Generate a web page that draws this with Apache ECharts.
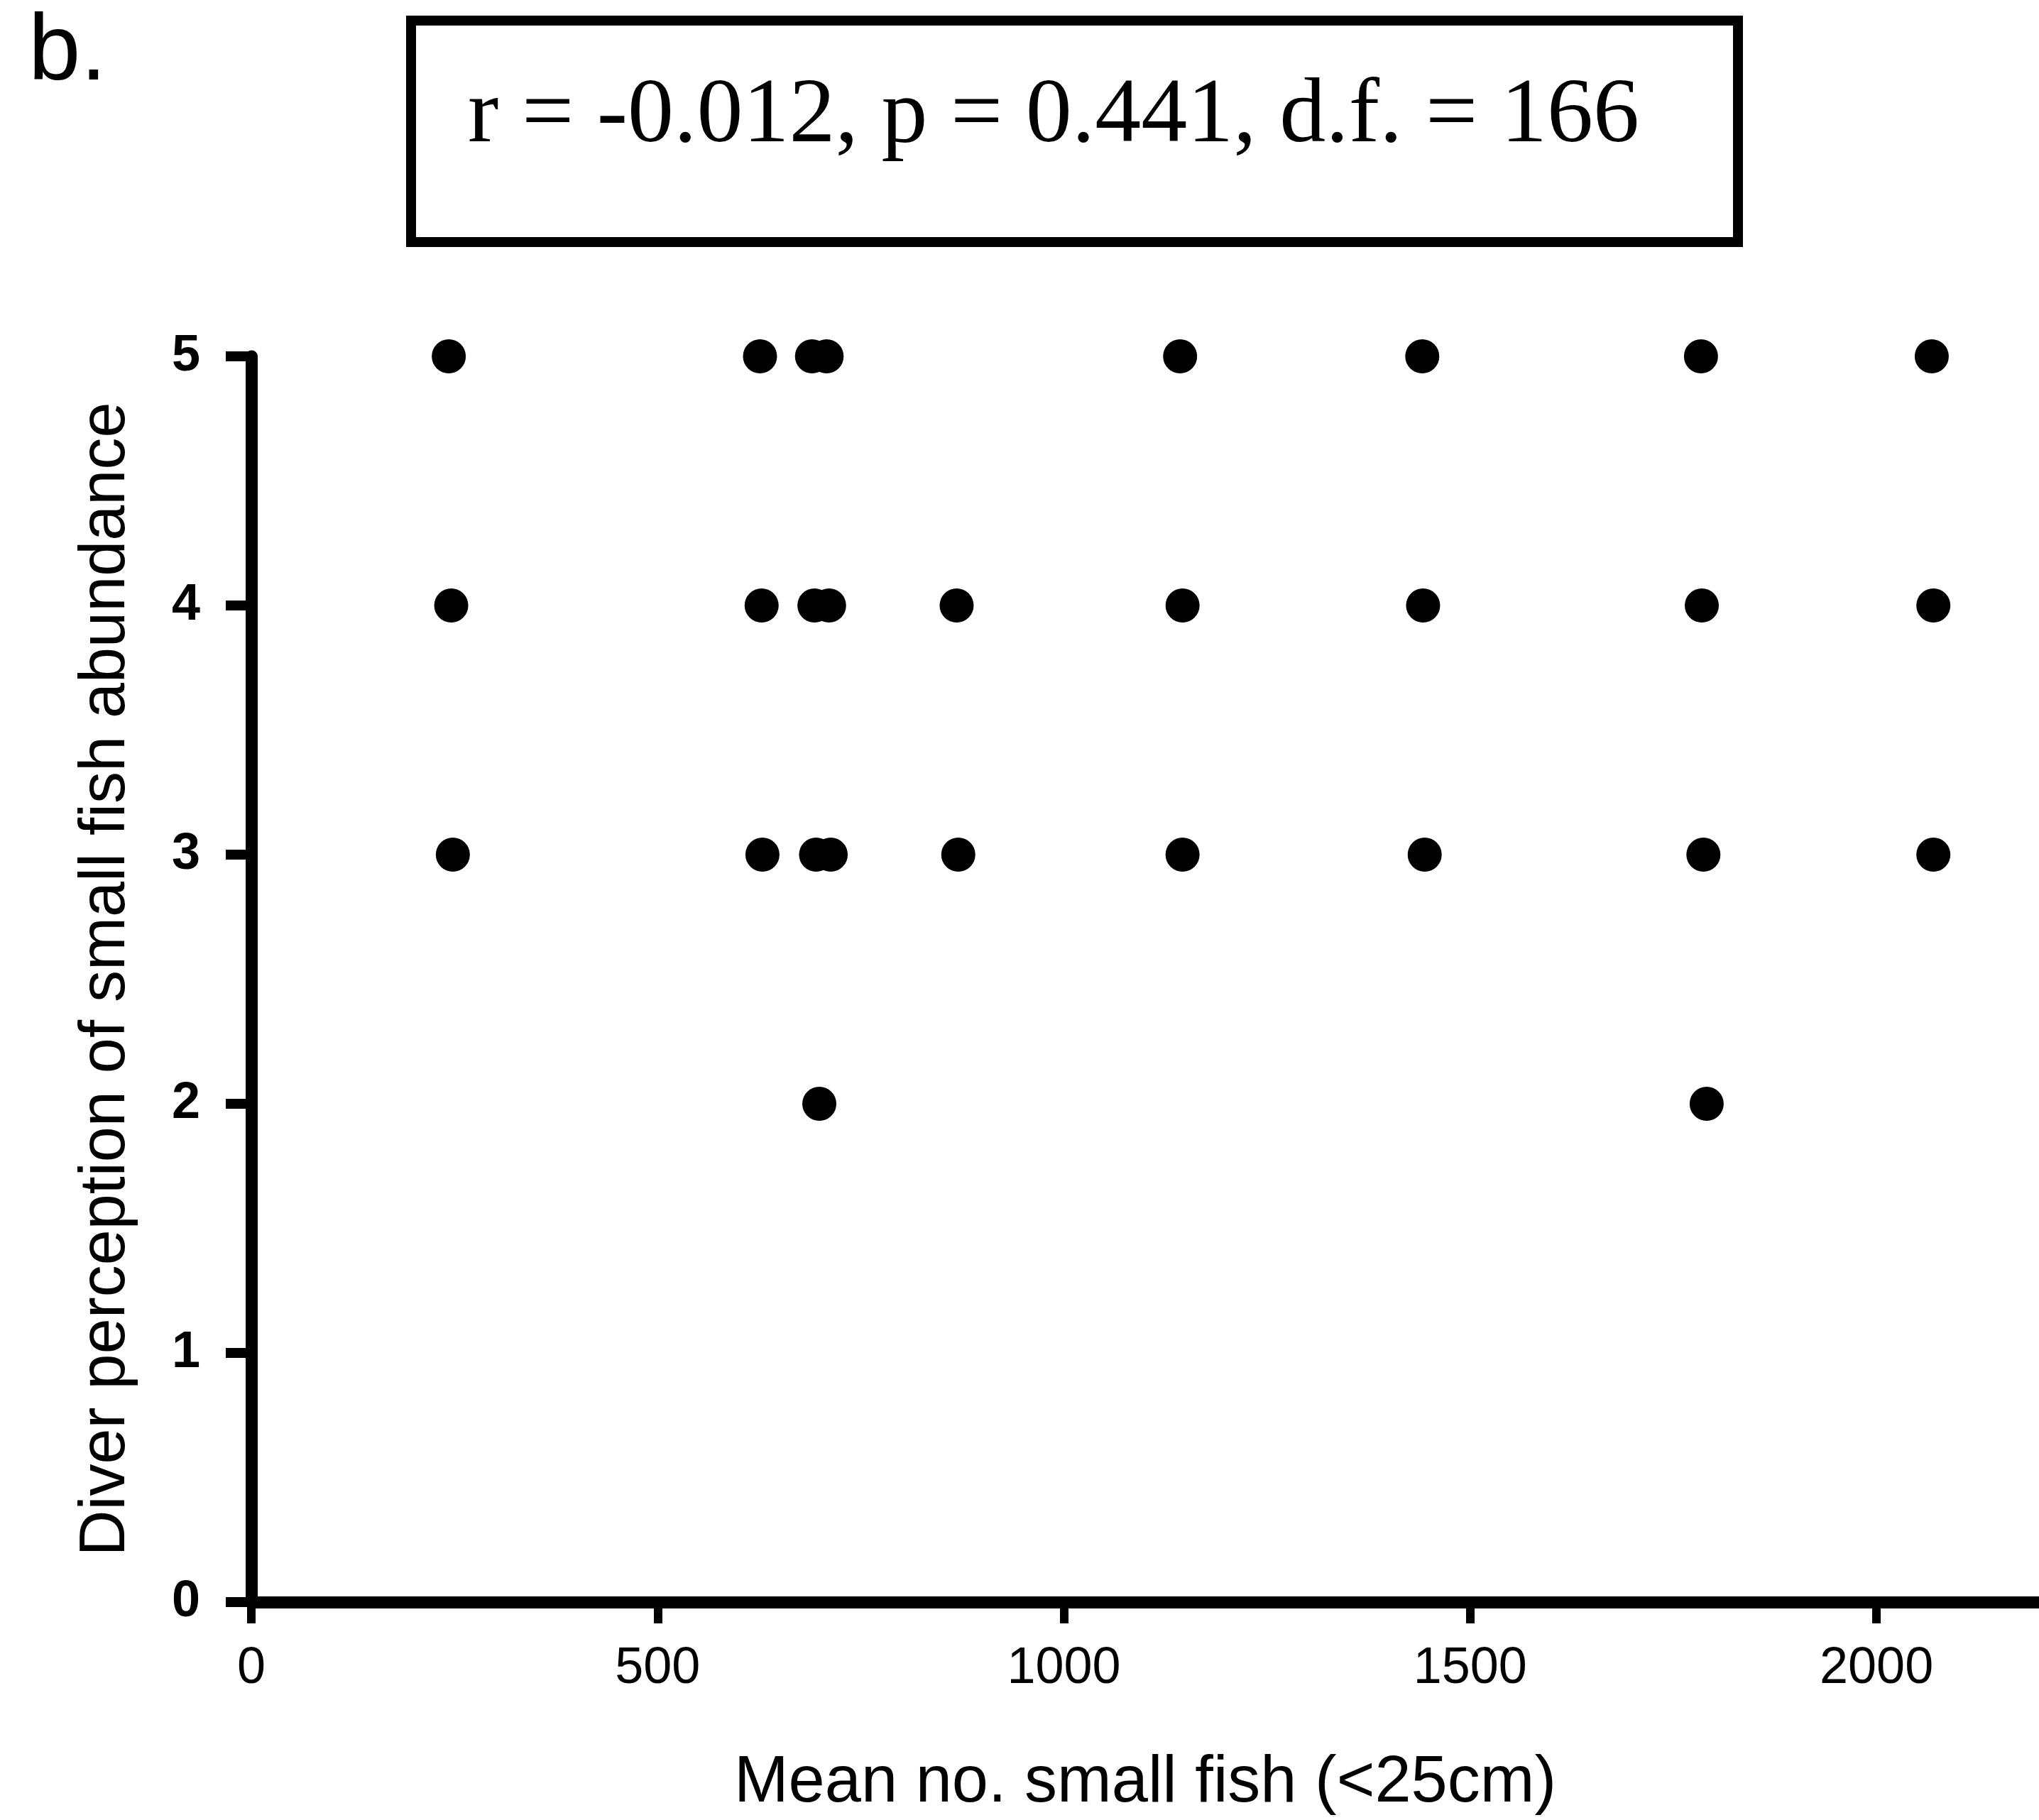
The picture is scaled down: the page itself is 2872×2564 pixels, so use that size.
<!DOCTYPE html>
<html>
<head>
<meta charset="utf-8">
<style>
html,body{margin:0;padding:0;background:#fff;}
#chart{width:2872px;height:2564px;}
</style>
<script src="https://cdn.jsdelivr.net/npm/echarts@6/dist/echarts.min.js"></script>
</head>
<body>
<div id="chart"></div>
<script>
// ---- data ----
const panelLabel = 'b.';
const statsText = 'r = -0.012, p = 0.441, d.f. = 166';
const xAxisTitle = 'Mean no. small fish (<25cm)';
const yAxisTitle = 'Diver perception of small fish abundance';
const xTickLabels = ['0', '500', '1000', '1500', '2000'];
const yTickLabels = ['0', '1', '2', '3', '4', '5'];

// mean number of small fish per site (x) and diver score (y)
const meanSmallFish = [
  243, 246, 248,
  626, 628, 629,
  690, 693, 695, 699,
  708, 711, 713,
  868, 870,
  1143, 1146, 1146,
  1441, 1442, 1444,
  1784, 1785, 1787, 1791,
  2068, 2070, 2070
];
const diverScore = [
  5, 4, 3,
  5, 4, 3,
  5, 4, 3, 2,
  5, 4, 3,
  4, 3,
  5, 4, 3,
  5, 4, 3,
  5, 4, 3, 2,
  5, 4, 3
];

const points = meanSmallFish.map((x, i) => [x, diverScore[i]]);

const chart = echarts.init(document.getElementById('chart'), null, {renderer: 'canvas'});
const sans = '"Liberation Sans", Arial, Helvetica, sans-serif';
const serif = '"Liberation Serif", "Times New Roman", serif';

chart.setOption({
  animation: false,
  backgroundColor: '#ffffff',
  grid: {left: 354, right: 0, top: 502, bottom: 302, containLabel: false},
  xAxis: {
    type: 'value',
    min: 0,
    max: 2200,
    interval: 500,
    name: xAxisTitle,
    nameLocation: 'middle',
    nameGap: 210,
    nameTextStyle: {fontFamily: sans, fontSize: 92, color: '#000'},
    axisLine: {show: true, onZero: false, lineStyle: {color: '#000', width: 17}},
    axisTick: {show: true, length: 30, lineStyle: {color: '#000', width: 12}},
    axisLabel: {
      show: true, margin: 58, color: '#000', fontFamily: sans, fontSize: 72,
      showMaxLabel: false,
      formatter: v => xTickLabels.includes(String(v)) ? String(v) : ''
    },
    splitLine: {show: false}
  },
  yAxis: {
    type: 'value',
    min: 0,
    max: 5,
    interval: 1,
    name: yAxisTitle,
    nameLocation: 'middle',
    nameGap: 159,
    nameRotate: 90,
    nameTextStyle: {fontFamily: sans, fontSize: 90, color: '#000'},
    axisLine: {show: true, onZero: false, lineStyle: {color: '#000', width: 17}},
    axisTick: {show: true, length: 36, lineStyle: {color: '#000', width: 14}},
    axisLabel: {
      show: true, margin: 72, color: '#000', fontFamily: sans, fontSize: 72, fontWeight: 'bold',
      formatter: v => yTickLabels.includes(String(v)) ? String(v) : ''
    },
    splitLine: {show: false}
  },
  series: [{
    type: 'scatter',
    data: points,
    symbol: 'circle',
    symbolSize: 48,
    clip: false,
    itemStyle: {color: '#000', opacity: 1},
    emphasis: {disabled: true}
  }],
  graphic: [
    {
      type: 'text', left: 40, top: 10,
      style: {text: panelLabel, font: '132px ' + sans, fill: '#000'}
    },
    {
      type: 'rect',
      shape: {x: 579, y: 29, width: 1869, height: 312},
      style: {fill: 'none', stroke: '#000', lineWidth: 14}
    },
    {
      type: 'text', x: 1484, y: 165,
      style: {text: statsText, font: '130px ' + serif, fill: '#000', textAlign: 'center', textVerticalAlign: 'middle'}
    }
  ]
});
</script>
</body>
</html>
